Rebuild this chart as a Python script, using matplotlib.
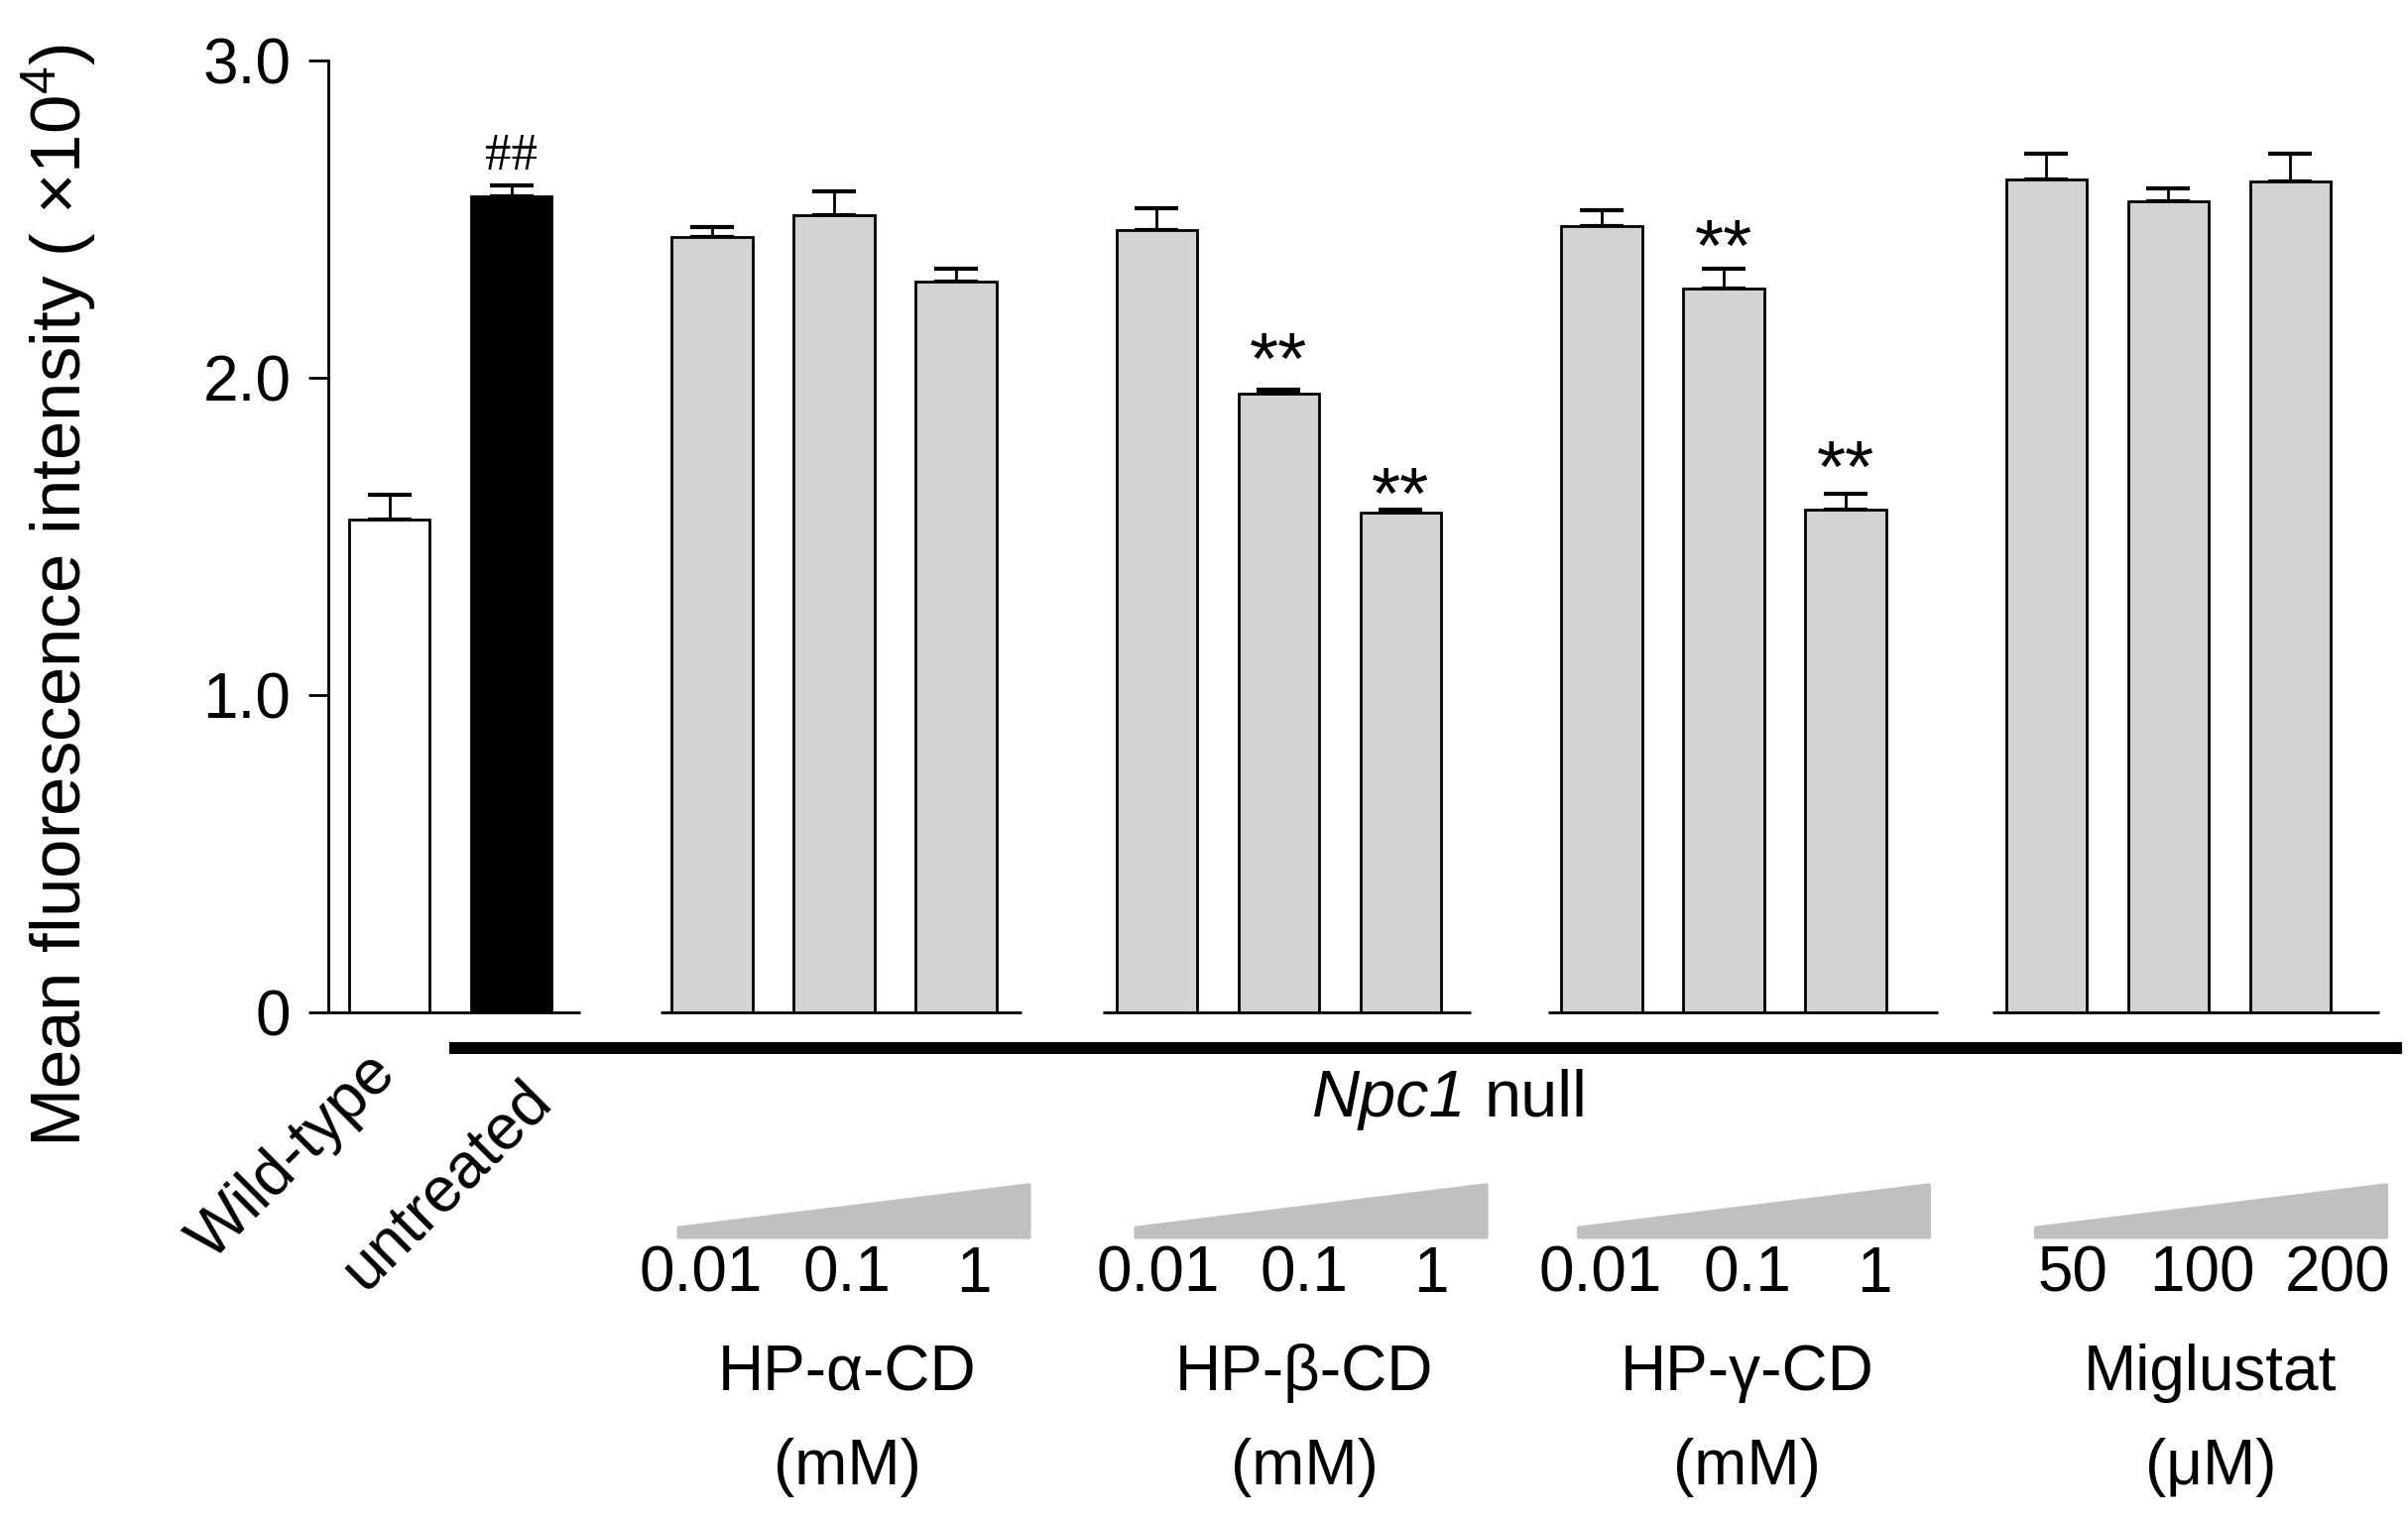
import matplotlib
matplotlib.use("Agg")
import matplotlib.pyplot as plt
from matplotlib.patches import Polygon

plt.rcParams['font.family'] = ['Liberation Sans', 'DejaVu Sans']
plt.rcParams['mathtext.fontset'] = 'custom'
plt.rcParams['mathtext.rm'] = 'Liberation Sans'
plt.rcParams['mathtext.it'] = 'Liberation Sans:italic'

# data (x10^4)
wt_mean, wt_sem = 1.552, 0.080
ut_mean, ut_sem = 2.572, 0.034

treatments = ['HP-α-CD', 'HP-β-CD', 'HP-γ-CD', 'Miglustat']
units = ['(mM)', '(mM)', '(mM)', '(μM)']
cd_doses = ['0.01', '0.1', '1']
mig_doses = ['50', '100', '200']

hp_alpha = [2.443, 2.513, 2.302]
hp_alpha_sem = [0.033, 0.075, 0.042]
hp_beta = [2.467, 1.950, 1.575]
hp_beta_sem = [0.068, 0.013, 0.009]
hp_gamma = [2.479, 2.282, 1.585]
hp_gamma_sem = [0.049, 0.062, 0.049]
miglustat = [2.626, 2.557, 2.618]
miglustat_sem = [0.080, 0.040, 0.088]

# significance marks: (group index, dose index, label)
marks = [(1, 1, '**'), (1, 2, '**'), (2, 1, '**'), (2, 2, '**')]

group_means = [hp_alpha, hp_beta, hp_gamma, miglustat]
group_sems = [hp_alpha_sem, hp_beta_sem, hp_gamma_sem, miglustat_sem]
group_doses = [cd_doses, cd_doses, cd_doses, mig_doses]

# layout
GAP = 1.646
W = 0.663
FS = 46
group_start = [1 + GAP + g * (2 + GAP) for g in range(4)]
seg_left = [-0.42, -0.44, -0.44, -0.44]
seg_right = [0.54, 0.57, 0.76, 0.73]
wedge_off = [-0.272, -0.17, -0.186, -0.084]
dose_off = {'cd': [0.18, 1.38, 2.42], 'mig': [0.30, 1.36, 2.47]}
mark_gap = [0.12, 0.075, 0.097, 0.11]   # glyph centre above error cap

fig = plt.figure(figsize=(24.28, 15.36), dpi=100)
ax = fig.add_axes([331 / 2428, 515 / 1536, 2078.7 / 2428, 960 / 1536])
ax.set_xlim(-0.5, 16.4)
ax.set_ylim(0, 3.0)

bar_kw = dict(width=W, edgecolor='black', linewidth=2, zorder=3)
err_kw = dict(fmt='none', ecolor='black', elinewidth=2, capsize=15.8, capthick=3, zorder=2)

ax.bar([0], [wt_mean], color='white', **bar_kw)
ax.errorbar([0], [wt_mean], yerr=[[0], [wt_sem]], **err_kw)
ax.bar([1], [ut_mean], color='black', **bar_kw)
ax.errorbar([1], [ut_mean], yerr=[[0], [ut_sem]], **err_kw)
ax.text(1, ut_mean + ut_sem + 0.05, '##', ha='center', va='baseline',
        fontsize=38, family='Liberation Serif')

ax.plot([-0.5, 1.565], [0, 0], color='black', lw=2, clip_on=False,
        solid_capstyle='butt')

for g in range(4):
    xs = [group_start[g] + i for i in range(3)]
    ax.bar(xs, group_means[g], color='#d3d3d3', **bar_kw)
    ax.errorbar(xs, group_means[g], yerr=[[0, 0, 0], group_sems[g]], **err_kw)
    ax.plot([xs[0] + seg_left[g], xs[-1] + seg_right[g]], [0, 0], color='black',
            lw=2, clip_on=False, solid_capstyle='butt')

    s = group_start[g] + wedge_off[g]
    wedge = Polygon([(s, -0.708), (s + 2.87, -0.708), (s + 2.87, -0.545), (s, -0.680)],
                    closed=True, facecolor='#c0c0c0', edgecolor='#c0c0c0', lw=3,
                    joinstyle='round', clip_on=False)
    ax.add_patch(wedge)
    offs = dose_off['mig' if g == 3 else 'cd']
    for lab, o in zip(group_doses[g], offs):
        ax.text(s + o, -0.827, lab, ha='center', va='center', fontsize=FS, clip_on=False)
    name_x = s + (1.43 if g == 3 else 1.38)
    ax.text(name_x, -1.139, treatments[g], ha='center', va='center', fontsize=FS)
    ax.text(name_x, -1.434, units[g], ha='center', va='center', fontsize=FS)

for (g, i, lab), gap in zip(marks, mark_gap):
    x = group_start[g] + i
    top = group_means[g][i] + group_sems[g][i]
    ax.text(x, top + gap - 0.102, lab, ha='center', va='baseline', fontsize=54)

# Npc1 null bar
ax.plot([0.49, 16.5], [-0.1125, -0.1125], color='black', lw=8.6, clip_on=False,
        solid_capstyle='butt')
ax.text(8.83, -0.275, 'Npc1', ha='right', va='center', fontsize=48, style='italic')
ax.text(8.98, -0.275, 'null', ha='left', va='center', fontsize=48)

ax.text(-0.02, -0.16, 'Wild-type', rotation=45, rotation_mode='anchor',
        ha='right', va='center', fontsize=FS)
ax.text(1.25, -0.247, 'untreated', rotation=45, rotation_mode='anchor',
        ha='right', va='center', fontsize=FS)

for side in ['top', 'right', 'bottom']:
    ax.spines[side].set_visible(False)
ax.spines['left'].set_linewidth(2)
ax.set_xticks([])
ax.set_yticks([0, 1, 2, 3])
ax.set_yticklabels(['0', '1.0', '2.0', '3.0'])
ax.tick_params(axis='y', length=14.4, width=2, pad=12.7, labelsize=FS)

fig.text(60 / 2428, 1 - 600 / 1536, r'Mean fluorescence intensity ( $\times$10$^{4}$)',
         rotation=90, ha='center', va='center', fontsize=51)

fig.savefig('out.png', dpi=100)
